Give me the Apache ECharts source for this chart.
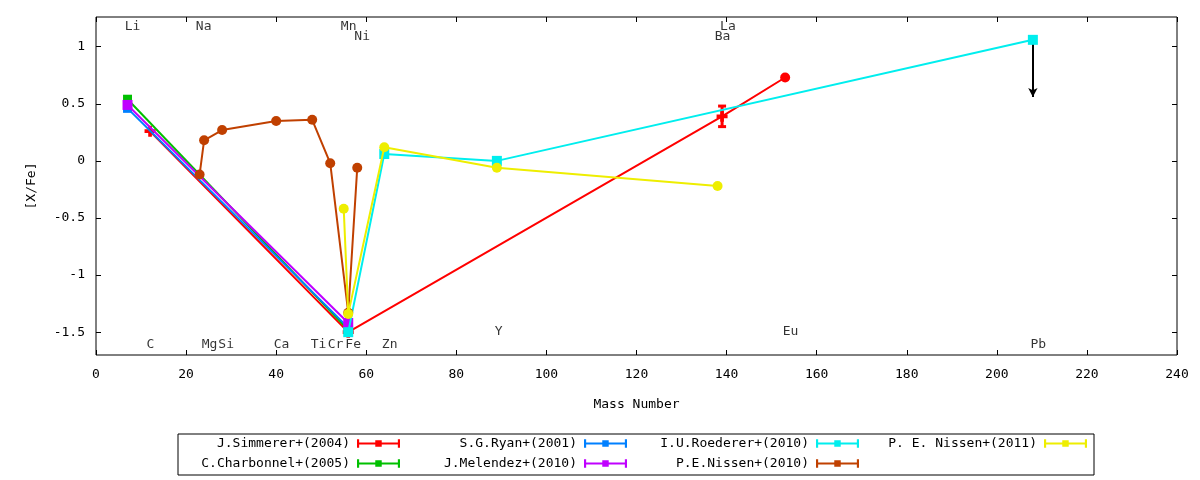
<!DOCTYPE html>
<html>
<head>
<meta charset="utf-8">
<title>[X/Fe] vs Mass Number</title>
<script src="https://cdn.jsdelivr.net/npm/echarts@6/dist/echarts.min.js"></script>
<style>
  html, body { margin: 0; padding: 0; background: #fff; }
  #chart { width: 1200px; height: 480px; }
</style>
</head>
<body>
<div id="chart"></div>
<script>
// 数据
const seriesNames = ['J.Simmerer+(2004)', 'C.Charbonnel+(2005)', 'S.G.Ryan+(2001)', 'J.Melendez+(2010)',
  'I.U.Roederer+(2010)', 'P.E.Nissen+(2010)', 'P. E. Nissen+(2011)']
const seriesColors = ['#ff0000', '#00c000', '#0080ff', '#c000ff', '#00eeee', '#c04000', '#eeee00']

const simmererMass = [12, 56, 139, 153]
const simmererVal = [0.26, -1.5, 0.39, 0.73]
const simmererErr = [0, 0, 0.09, 0]
const charbonnelMass = [7, 56]
const charbonnelVal = [0.54, -1.48]
const ryanMass = [7, 56]
const ryanVal = [0.46, -1.46]
const melendezMass = [7, 56]
const melendezVal = [0.49, -1.42]
const roedererMass = [56, 64, 89, 208]
const roedererVal = [-1.5, 0.06, 0.0, 1.06]
const nissen10Mass = [23, 24, 28, 40, 48, 52, 56, 58]
const nissen10Val = [-0.12, 0.18, 0.27, 0.35, 0.36, -0.02, -1.33, -0.06]
const nissen11Mass = [55, 56, 64, 89, 138]
const nissen11Val = [-0.42, -1.34, 0.12, -0.06, -0.22]
// Pb 上限箭头: 质量, 起点, 终点
const pbLimit = [208, 1.06, 0.56]

// 元素标签
const elemNames = ['Li', 'Na', 'Mn', 'Ni', 'La', 'Ba', 'C', 'Mg', 'Si', 'Ca', 'Ti', 'Cr', 'Fe', 'Zn', 'Y', 'Eu', 'Pb']
const elemX = [8.1, 23.9, 56.1, 59.1, 140.3, 139.1, 12.1, 25.2, 28.9, 41.2, 49.4, 53.2, 57.1, 65.2, 89.4, 154.2, 209.2]
const elemY = [1.175, 1.175, 1.175, 1.085, 1.175, 1.085, -1.61, -1.61, -1.61, -1.61, -1.61, -1.61, -1.61, -1.61, -1.495, -1.495, -1.61]

const xTicks = [0, 240, 20]
const yTickValues = [-1.5, -1, -0.5, 0, 0.5, 1]
const yRange = [-1.7, 1.26]

const FONT = 'DejaVu Sans Mono'
const plusIcon = 'path://M3,0h3v3h3v3h-3v3h-3v-3h-3v-3h3z'
const errIcon = 'path://M0,0H2V3H17V1H23V3H38V0H40V8H38V5H23V7H17V5H2V8H0Z'

function pairs (xs, ys) {
  return xs.map((x, i) => [x, ys[i]])
}

function lineSeries (idx, xs, ys, symbol, size) {
  return {
    name: seriesNames[idx],
    type: 'line',
    data: pairs(xs, ys),
    symbol: symbol,
    symbolSize: size,
    showAllSymbol: true,
    lineStyle: { width: 2, color: seriesColors[idx] },
    itemStyle: { color: seriesColors[idx] },
    z: 2 + idx
  }
}

const series = []
const simmerer = lineSeries(0, simmererMass, simmererVal, plusIcon, 11)
// Eu 点是实心圆
simmerer.data[3] = { value: simmerer.data[3], symbol: 'circle', symbolSize: 10 }
series.push(simmerer)
series.push({
  type: 'custom',
  name: seriesNames[0],
  data: simmererMass.map((x, i) => [x, simmererVal[i] - simmererErr[i], simmererVal[i] + simmererErr[i]]).filter((d, i) => simmererErr[i] > 0),
  z: 2,
  renderItem (params, api) {
    const lo = api.coord([api.value(0), api.value(1)])
    const hi = api.coord([api.value(0), api.value(2)])
    const w = 4
    const st = { stroke: seriesColors[0], lineWidth: 3 }
    return {
      type: 'group',
      children: [
        { type: 'line', shape: { x1: lo[0], y1: lo[1], x2: hi[0], y2: hi[1] }, style: st },
        { type: 'line', shape: { x1: lo[0] - w, y1: lo[1], x2: lo[0] + w, y2: lo[1] }, style: st },
        { type: 'line', shape: { x1: hi[0] - w, y1: hi[1], x2: hi[0] + w, y2: hi[1] }, style: st }
      ]
    }
  }
})
series.push(lineSeries(1, charbonnelMass, charbonnelVal, 'rect', 9))
series.push(lineSeries(2, ryanMass, ryanVal, 'rect', 9))
series.push(lineSeries(3, melendezMass, melendezVal, 'rect', 10))
const roederer = lineSeries(4, roedererMass, roedererVal, 'rect', 10)
roederer.markLine = {
  silent: true,
  symbol: ['none', 'arrow'],
  symbolSize: [7, 9],
  label: { show: false },
  lineStyle: { color: '#000', width: 2, type: 'solid' },
  data: [[{ coord: [pbLimit[0], pbLimit[1]] }, { coord: [pbLimit[0], pbLimit[2]] }]]
}
series.push(roederer)
series.push(lineSeries(5, nissen10Mass, nissen10Val, 'circle', 10))
series.push(lineSeries(6, nissen11Mass, nissen11Val, 'circle', 10))

// 元素名
series.push({
  type: 'scatter',
  silent: true,
  symbolSize: 0,
  data: elemNames.map((n, i) => ({ name: n, value: [elemX[i], elemY[i]] })),
  label: {
    show: true,
    position: 'inside',
    formatter: '{b}',
    color: '#000',
    fontFamily: FONT,
    fontSize: 13
  },
  z: 20
})

// 图例: 两行四列, 按列排序
const legendRight = [800, 573, 341, 113]
const legendTop = [437, 457]
const legends = seriesNames.map((name, i) => ({
  data: [{ name: name, icon: errIcon }],
  right: legendRight[Math.floor(i / 2)],
  top: legendTop[i % 2],
  align: 'right',
  orient: 'horizontal',
  padding: 0,
  itemWidth: 43,
  itemHeight: 9,
  itemGap: 8,
  selectedMode: false,
  itemStyle: { borderWidth: 0 },
  textStyle: { fontFamily: FONT, fontSize: 13, color: '#000', padding: [0, 2, 0, 0] }
}))

const axisFont = { fontFamily: FONT, fontSize: 13, color: '#000' }
const tickStyle = { inside: true, length: 5, lineStyle: { color: '#000', width: 1 } }
const noLine = { show: false, onZero: false }

const option = {
  animation: false,
  backgroundColor: '#fff',
  grid: { left: 96, right: 23, top: 17, bottom: 125, show: true, borderColor: '#000', borderWidth: 1, backgroundColor: 'transparent' },
  legend: legends,
  xAxis: [
    {
      type: 'value', min: xTicks[0], max: xTicks[1], interval: xTicks[2],
      name: 'Mass Number', nameLocation: 'middle', nameGap: 43,
      nameTextStyle: axisFont,
      axisLine: noLine,
      axisTick: tickStyle,
      axisLabel: Object.assign({ margin: 13 }, axisFont),
      splitLine: { show: false }
    },
    {
      type: 'value', position: 'top', min: xTicks[0], max: xTicks[1], interval: xTicks[2],
      axisLine: noLine,
      axisTick: tickStyle,
      axisLabel: { show: false },
      splitLine: { show: false }
    }
  ],
  yAxis: [
    {
      type: 'value', min: yRange[0], max: yRange[1],
      name: '[X/Fe]', nameLocation: 'middle', nameGap: 58, nameRotate: 90,
      nameTextStyle: axisFont,
      axisLine: noLine,
      axisTick: Object.assign({ customValues: yTickValues }, tickStyle),
      axisLabel: Object.assign({ margin: 11, customValues: yTickValues, formatter: v => String(v) }, axisFont),
      splitLine: { show: false }
    },
    {
      type: 'value', position: 'right', min: yRange[0], max: yRange[1],
      axisLine: noLine,
      axisTick: Object.assign({ customValues: yTickValues }, tickStyle),
      axisLabel: { show: false, customValues: yTickValues },
      splitLine: { show: false }
    }
  ],
  graphic: [{
    type: 'rect',
    shape: { x: 178, y: 434, width: 916, height: 41 },
    style: { fill: 'none', stroke: '#000', lineWidth: 1 },
    silent: true
  }],
  series: series
}

const chart = echarts.init(document.getElementById('chart'))
chart.setOption(option)
window.addEventListener('resize', () => chart.resize(), false)
</script>
</body>
</html>
